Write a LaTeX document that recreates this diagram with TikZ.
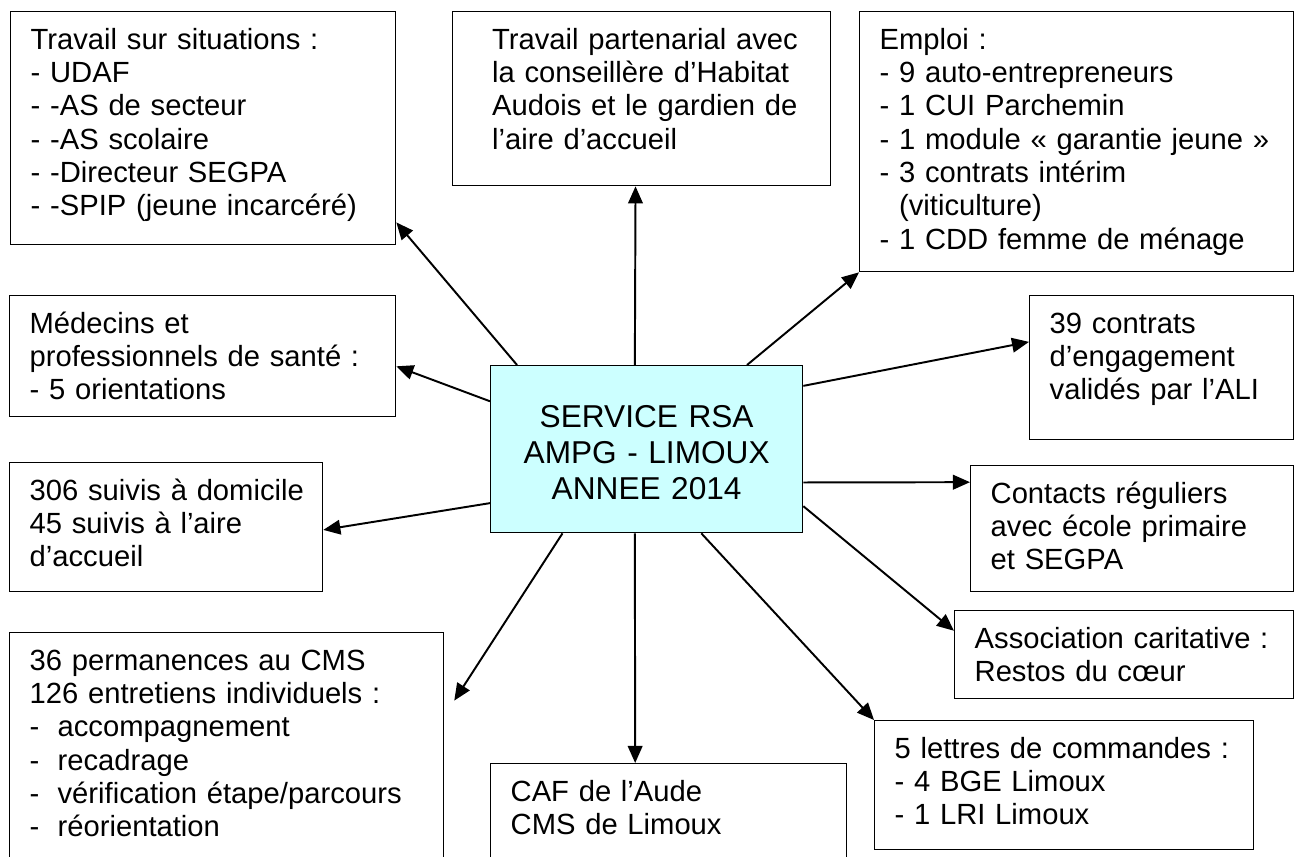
\documentclass[tikz,border=0pt]{standalone}
\usepackage{fontspec}
\setmainfont{Liberation Sans}
\usetikzlibrary{arrows.meta}
\newlength{\pxu}
\setlength{\pxu}{0.411pt}
\definecolor{rsacyan}{RGB}{204,255,255}

\begin{document}
\begin{tikzpicture}[x=0.411pt, y=-0.411pt]
    \path[use as bounding box, clip] (0,0) rectangle (1296,856);

    \begin{scope}[every node/.style={draw, line width=0.55pt, anchor=north west, align=left, inner xsep=20\pxu, inner ysep=0pt, text height=37.5\pxu, font=\fontsize{12}{13.7}\selectfont}]
        \node [text width=345\pxu, text depth=195.5\pxu] (sit) at (10,11) {Travail sur situations :\\- UDAF\\- -AS de secteur\\- -AS scolaire\\- -Directeur SEGPA\\- -SPIP (jeune incarcéré)};
        \node [text width=338\pxu, text depth=136.5\pxu] (partner) at (452,11) {\hspace*{19.5\pxu}Travail partenarial avec\\\hspace*{19.5\pxu}la conseillère d’Habitat\\\hspace*{19.5\pxu}Audois et le gardien de\\\hspace*{19.5\pxu}l’aire d’accueil};
        \node [text width=394\pxu, text depth=222.5\pxu] (emploi) at (859,11) {Emploi :\\- 9 auto-entrepreneurs\\- 1 CUI Parchemin\\\mbox{- 1 module « garantie jeune »}\\- 3 contrats intérim\\\hphantom{- }(viticulture)\\- 1 CDD femme de ménage};
        \node [text width=346\pxu, text depth=83.5\pxu] (medecins) at (9,295) {Médecins et\\professionnels de santé :\\- 5 orientations};
        \node [text width=224\pxu, text depth=106.5\pxu] (contrats) at (1029,295) {39 contrats\\d’engagement\\validés par l’ALI};
        \node [text width=272\pxu, text height=62\pxu, text depth=105\pxu, align=center, fill=rsacyan, font=\fontsize{13}{14.8}\selectfont] (rsa) at (490,365) {SERVICE RSA\\AMPG - LIMOUX\\ANNEE 2014};
        \node [text width=273\pxu, text depth=91.5\pxu] (suivis) at (9,462) {\mbox{306 suivis à domicile}\\45 suivis à l’aire\\d’accueil};
        \node [text width=283\pxu, text depth=88.5\pxu] (contacts) at (970,465) {Contacts réguliers\\avec école primaire\\et SEGPA};
        \node [text width=299\pxu, text depth=50.5\pxu] (assoc) at (954,610) {\mbox{Association caritative :}\\Restos du cœur};
        \node [text width=394\pxu, text depth=229.5\pxu] (perm) at (9,632) {36 permanences au CMS\\126 entretiens individuels :\\\makebox[11.5pt][l]{-}accompagnement\\\makebox[11.5pt][l]{-}recadrage\\\makebox[11.5pt][l]{-}vérification étape/parcours\\\makebox[11.5pt][l]{-}réorientation};
        \node [text width=316\pxu, text depth=98.5\pxu] (caf) at (490,763) {CAF de l’Aude\\CMS de Limoux};
        \node [text width=339\pxu, text depth=91.5\pxu] (lettres) at (874,720) {5 lettres de commandes :\\- 4 BGE Limoux\\- 1 LRI Limoux};
    \end{scope}

    \begin{scope}[every path/.style={line width=0.8pt, -{Triangle[length=7pt, width=6pt]}}]
        \path (rsa.147.9) edge (sit.-26.9);
        \path (rsa.98.2) edge (partner.-94.6);
        \path (rsa.40.4) edge (emploi.south west);
        \path (rsa.22.1) edge (contrats.169.3);
        \path (rsa.-12.5) edge (contacts.164.4);
        \path (rsa.-20.9) edge (assoc.172.3);
        \path (rsa.-57.1) edge (lettres.north west);
        \path (rsa.-98.2) edge (caf.116.57);
        \path (rsa.-135.8) edge [shorten >=7.5pt] (perm.13.85);
        \path (rsa.199.6) edge (suivis.-1.6);
        \path (rsa.163.4) edge (medecins.-3.1);
    \end{scope}
\end{tikzpicture}
\end{document}
